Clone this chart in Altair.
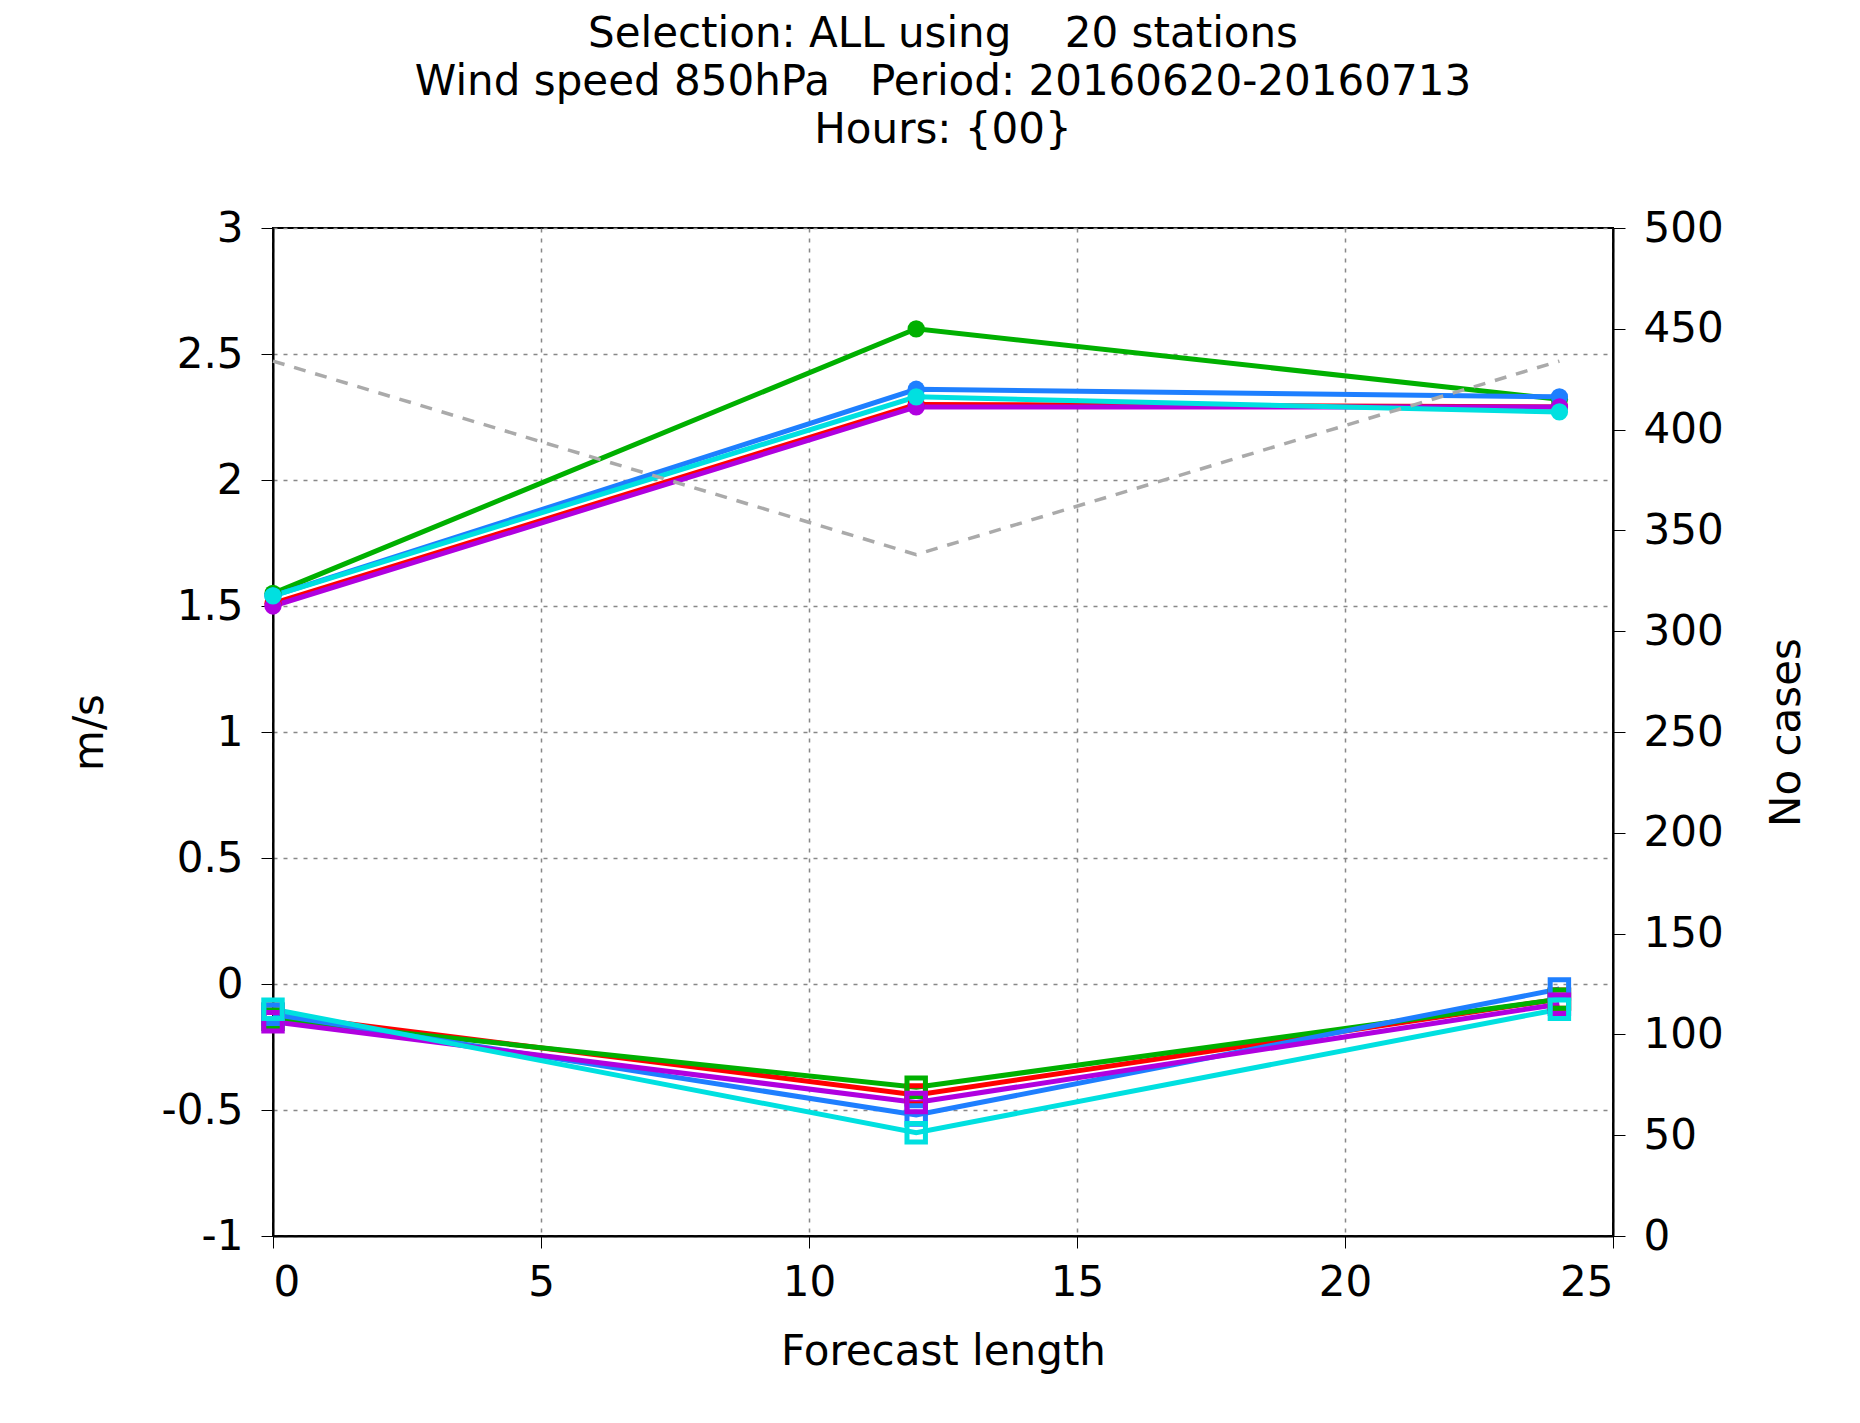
import pandas as pd
import altair as alt

LEADTIMES = [0, 12, 24]
SERIES = ["red", "green", "blue", "magenta", "cyan"]
COLORS = ["#ff0000", "#00b000", "#1e7fff", "#b000e0", "#00e0e0"]

# upper group (filled circles) and lower group (squares)
UPPER = {
    "red":     [1.51, 2.30, 2.29],
    "green":   [1.55, 2.60, 2.32],
    "blue":    [1.54, 2.36, 2.33],
    "magenta": [1.50, 2.29, 2.29],
    "cyan":    [1.54, 2.33, 2.27],
}
LOWER = {
    "red":     [-0.12, -0.44, -0.06],
    "green":   [-0.14, -0.41, -0.06],
    "blue":    [-0.12, -0.52, -0.02],
    "magenta": [-0.15, -0.47, -0.08],
    "cyan":    [-0.10, -0.59, -0.10],
}
CASES = [434, 338, 434]

rows = []
for i, s in enumerate(SERIES):
    for g, d in (("up", UPPER), ("lo", LOWER)):
        for lt, v in zip(LEADTIMES, d[s]):
            rows.append({"lt": lt, "val": v, "series": s, "grp": g, "key": s + g, "order": i})
df = pd.DataFrame(rows)
cases = pd.DataFrame({"lt": LEADTIMES, "n": CASES})

FONT = "DejaVu Sans"
xscale = alt.Scale(domain=[0, 25], nice=False)
color = alt.Color("series:N", scale=alt.Scale(domain=SERIES, range=COLORS), legend=None)
plain = "'' + datum.value"

xax = alt.X("lt:Q", scale=xscale, title="Forecast length",
            axis=alt.Axis(values=[0, 5, 10, 15, 20, 25], grid=True, gridDash=[4, 6],
                          gridColor="#888", gridWidth=1.5, tickSize=12, tickColor="black",
                          domainColor="black", domainWidth=2, labelPadding=14, titlePadding=28,
                          labelExpr=plain))

base = alt.Chart(df)
lines = base.mark_line(strokeWidth=5).encode(
    x=xax,
    y=alt.Y("val:Q", scale=alt.Scale(domain=[-1, 3], nice=False), title="m/s",
            axis=alt.Axis(values=[-1, -0.5, 0, 0.5, 1, 1.5, 2, 2.5, 3], grid=True,
                          gridDash=[4, 6], gridColor="#888", gridWidth=1.5, tickSize=12,
                          tickColor="black", domainColor="black", domainWidth=2,
                          labelPadding=18, titlePadding=50, labelExpr=plain)),
    color=color, detail="key:N", order="order:Q",
)
up_pts = base.transform_filter(alt.datum.grp == "up").mark_point(
    shape="circle", filled=True, size=300, opacity=1).encode(x="lt:Q", y="val:Q", color=color)
lo_pts = base.transform_filter(alt.datum.grp == "lo").mark_square(
    filled=False, size=340, strokeWidth=5, opacity=1).encode(x="lt:Q", y="val:Q", color=color)

left = alt.layer(lines, up_pts, lo_pts)

right = alt.Chart(cases).mark_line(strokeDash=[12, 10], color="#aaaaaa", strokeWidth=3.5).encode(
    x=alt.X("lt:Q", scale=xscale),
    y=alt.Y("n:Q", scale=alt.Scale(domain=[0, 500], nice=False), title="No cases",
            axis=alt.Axis(orient="right", values=list(range(0, 501, 50)), tickSize=12,
                          tickColor="black", domainColor="black", domainWidth=2,
                          labelPadding=18, titlePadding=85, titleAngle=270)),
)

chart = alt.layer(left, right).resolve_scale(y="independent").properties(
    width=1340, height=1008,
    padding={"left": 60, "top": 5, "right": 5, "bottom": 5},
    title=alt.TitleParams(
        ["Selection: ALL using\u00a0\u00a0\u00a0\u00a020 stations",
         "Wind speed 850hPa\u00a0\u00a0\u00a0Period: 20160620-20160713",
         "Hours: {00}"],
        font=FONT, fontSize=42, fontWeight="normal", anchor="middle", offset=55, lineHeight=48,
    ),
).configure_axis(
    labelFont=FONT, titleFont=FONT, labelFontSize=42, titleFontSize=42,
    titleFontWeight="normal", labelColor="black", titleColor="black",
).configure_view(stroke="black", strokeWidth=2)

chart.save("out.html", embed_options={"renderer": "svg", "actions": False})
